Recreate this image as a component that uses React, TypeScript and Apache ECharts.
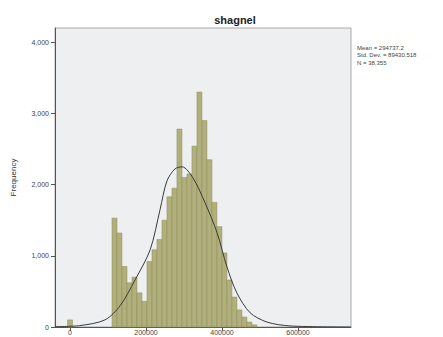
import React, { useEffect, useRef } from "react";
import * as echarts from "echarts";

const chartTitle = "shagnel";
const yAxisName = "Frequency";
const statsLines = ["Mean = 294737.2", "Std. Dev. = 89430.518", "N = 38,355"];

const BIN_WIDTH = 13150;
const binLowers = [
  -6575, 110500, 123650, 136800, 149950, 163100, 176250, 189400, 202550, 215700,
  228850, 242000, 255150, 268300, 281450, 294600, 307750, 320900, 334050, 347200,
  360350, 373500, 386650, 399800, 412950, 426100, 439250, 452400, 465550, 478700,
];
const binCounts = [
  100, 1530, 1320, 850, 620, 700, 480, 360, 920, 1085,
  1230, 1500, 1830, 1950, 2780, 2100, 2150, 2540, 3300, 2900,
  2350, 1750, 1410, 1040, 660, 420, 240, 140, 70, 30,
];

const curveX = [
  -39000, 26000, 92000, 132000, 171000, 211000, 237000, 255000, 276000, 295000,
  324000, 355000, 387000, 413000, 439000, 474000, 518000, 579000, 739000,
];
const curveY = [
  5, 20, 100, 300, 660, 1085, 1650, 2050, 2220, 2250,
  2090, 1750, 1325, 845, 480, 200, 70, 15, 0,
];

const xTickValues = [0, 200000, 400000, 600000];
const yTickValues = [0, 1000, 2000, 3000, 4000];

const FONT = "Liberation Sans, Arial, sans-serif";

export default function App() {
  const ref = useRef<HTMLDivElement>(null);
  useEffect(() => {
    if (!ref.current) return;
    const chart = echarts.init(ref.current, null, { renderer: "svg" });
    const barData = binLowers.map((lo, i) => [lo, lo + BIN_WIDTH, binCounts[i]]);
    const curveData = curveX.map((x, i) => [x, curveY[i]]);
    chart.setOption({
      animation: false,
      backgroundColor: "#ffffff",
      textStyle: { fontFamily: FONT },
      grid: {
        left: 55,
        right: 92,
        top: 28,
        bottom: 10,
        show: true,
        backgroundColor: "#eeeff1",
        borderColor: "#a8a8a8",
        borderWidth: 1,
      },
      xAxis: {
        type: "value",
        min: -39500,
        max: 739500,
        splitLine: { show: false },
        axisLine: { show: true, onZero: false, lineStyle: { color: "#555", width: 1 } },
        axisTick: { show: true, length: 4, customValues: xTickValues, lineStyle: { color: "#555" } },
        axisLabel: {
          customValues: xTickValues,
          formatter: (v: number) => String(v),
          fontSize: 7,
          color: "#444",
          margin: 2,
          fontFamily: FONT,
        },
      },
      yAxis: {
        type: "value",
        min: 0,
        max: 4200,
        interval: 1000,
        name: yAxisName,
        nameLocation: "middle",
        nameGap: 38,
        nameTextStyle: { fontSize: 8, color: "#333", fontFamily: FONT },
        splitLine: { show: false },
        axisLine: { show: true, onZero: false, lineStyle: { color: "#555", width: 1 } },
        axisTick: { show: true, length: 4, customValues: yTickValues, lineStyle: { color: "#555" } },
        axisLabel: {
          customValues: yTickValues,
          formatter: (v: number) => v.toLocaleString("en-US"),
          fontSize: 7,
          color: "#444",
          margin: 6,
          fontFamily: FONT,
        },
      },
      graphic: [
        {
          type: "text",
          x: 235,
          y: 20,
          style: {
            text: chartTitle,
            fontSize: 11,
            fontWeight: "bold",
            fontFamily: FONT,
            fill: "#222",
            textAlign: "center",
            textVerticalAlign: "middle",
          },
        },
        {
          type: "text",
          x: 357,
          y: 44,
          style: {
            text: statsLines.join("\n"),
            fontSize: 6,
            lineHeight: 7.5,
            fontFamily: FONT,
            fill: "#444",
            textAlign: "left",
            textVerticalAlign: "top",
          },
        },
      ],
      series: [
        {
          type: "custom",
          data: barData,
          encode: { x: [0, 1], y: 2 },
          renderItem: (params: any, api: any) => {
            const p0 = api.coord([api.value(0), api.value(2)]);
            const p1 = api.coord([api.value(1), 0]);
            return {
              type: "rect",
              shape: { x: p0[0], y: p0[1], width: p1[0] - p0[0], height: p1[1] - p0[1] },
              style: { fill: "#b1b07c", stroke: "#8e8d5a", lineWidth: 0.5 },
            };
          },
        },
        {
          type: "line",
          data: curveData,
          smooth: 0.3,
          symbol: "none",
          lineStyle: { color: "#3a3a3a", width: 1 },
          z: 5,
        },
      ],
    });
    return () => chart.dispose();
  }, []);
  return (
    <div
      ref={ref}
      style={{ position: "fixed", left: 0, top: 0, width: 443, height: 337 }}
    />
  );
}
